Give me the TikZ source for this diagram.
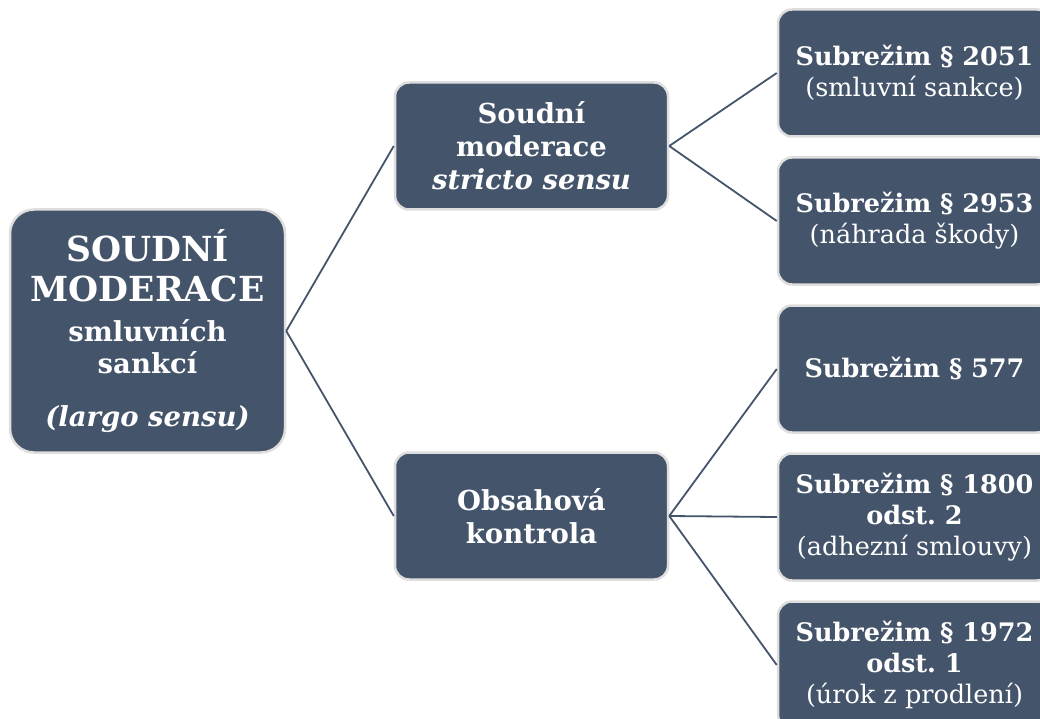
\documentclass[tikz,border=0pt]{standalone}
\usepackage{fontspec}
\setmainfont{DejaVu Serif}
\definecolor{slate}{HTML}{44546A}
\definecolor{rim}{HTML}{DEDEDE}
\begin{document}
\frenchspacing
\begin{tikzpicture}[x=1pt,y=-1pt,
  box/.style={draw=rim, line width=2.5pt, fill=slate, text=white, rounded corners=14pt,
    align=center, inner sep=0pt, minimum width=273pt, minimum height=127pt},
  link/.style={draw=slate, line width=1.8pt},
  rtext/.style={font=\fontsize{25.5}{31}\selectfont},
  mtext/.style={font=\fontsize{27.5}{33}\selectfont\bfseries},
  roottext/.style={font=\fontsize{27.5}{32}\selectfont\bfseries}
]
\useasboundingbox (0,0) rectangle (1040,719);
\clip (0,0) rectangle (1040,719);
\node[box, roottext, minimum width=275pt, minimum height=243pt, rounded corners=24pt] (root) at (147.5,331)
 {{\fontsize{34.5}{40}\selectfont SOUDNÍ}\\[8pt]{\fontsize{34.5}{40}\selectfont MODERACE}\\[8pt]smluvních\\sankcí\\[21pt]\textit{(largo sensu)}};
\node[box, mtext] (mtop) at (531.5,146) {Soudní\\moderace\\\textit{stricto sensu}};
\node[box, mtext] (mbot) at (531.5,516) {Obsahová\\kontrola};
\node[box, rtext] (r1) at (914.5,73) {\textbf{Subrežim § 2051}\\(smluvní sankce)};
\node[box, rtext] (r2) at (914.5,221) {\textbf{Subrežim § 2953}\\(náhrada škody)};
\node[box, rtext] (r3) at (914.5,369) {\textbf{Subrežim § 577}};
\node[box, rtext] (r4) at (914.5,517) {\textbf{Subrežim § 1800}\\\textbf{odst. 2}\\(adhezní smlouvy)};
\node[box, rtext] (r5) at (914.5,665) {\textbf{Subrežim § 1972}\\\textbf{odst. 1}\\(úrok z prodlení)};
\draw[link] (root.east) -- (mtop.west);
\draw[link] (root.east) -- (mbot.west);
\draw[link] (mtop.east) -- (r1.west);
\draw[link] (mtop.east) -- (r2.west);
\draw[link] (mbot.east) -- (r3.west);
\draw[link] (mbot.east) -- (r4.west);
\draw[link] (mbot.east) -- (r5.west);
\end{tikzpicture}
\end{document}
